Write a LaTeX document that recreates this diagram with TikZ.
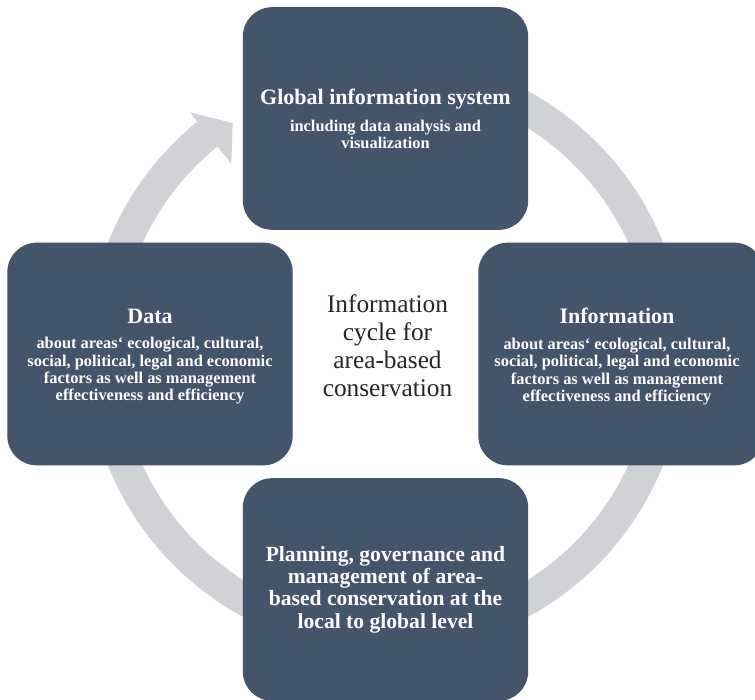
\documentclass[tikz,border=0pt]{standalone}
\usepackage{fontspec}
\setmainfont{Liberation Serif}
\usetikzlibrary{calc}

\definecolor{slate}{HTML}{44546A}
\definecolor{ringgrey}{HTML}{D0D2D6}

\begin{document}
\begin{tikzpicture}[x=0.75pt,y=0.75pt,
		box/.style={fill=slate,rounded corners=22pt,minimum width=214pt,minimum height=167pt,
			text=white,align=center,font=\bfseries},
		boxtitle/.style={font=\bfseries\fontsize{16.5}{19}\selectfont,text=white,inner sep=1pt},
		boxtext/.style={font=\bfseries\fontsize{12.3}{13.1}\selectfont,text=white,align=center,inner sep=1pt}]
		\useasboundingbox (0,0) rectangle (755,699);
		\clip (0,0) rectangle (755,699);
		
		\coordinate (c) at (385.5,345);
		
		% grey ring, running clockwise, with its head at the top box
		\fill[ringgrey] ($(c)+(95:299)$) arc[start angle=95,end angle=-231,radius=299]
		-- ($(c)+(-231:311)$) -- ($(c)+(-236.5:277)$) -- ($(c)+(-231:245)$)
		-- ($(c)+(-231:267)$) arc[start angle=-231,end angle=95,radius=267] -- cycle;
		
		\node[box] (gis) at (385.5,580.5) {};
		\node[box] (data) at (150,345) {};
		\node[box] (info) at (621,345) {};
		\node[box] (plan) at (385.5,109.5) {};
		
		\node[boxtitle] (gist) at ($(gis)+(0,19)$) {Global information system};
		\node[boxtext,below=5.5pt] (gisb) at (gist.south) {including data analysis and\\visualization};
		
		\node[boxtitle] (datat) at ($(data)+(0,38)$) {Data};
		\node[boxtext,below=8pt] (datab) at (datat.south)
		{about areas‘ ecological, cultural,\\social, political, legal and economic\\factors as well as management\\effectiveness and efficiency};
		
		\node[boxtitle] (infot) at ($(info)+(-4,38)$) {Information};
		\node[boxtext,below=8pt] (infob) at (infot.south)
		{about areas‘ ecological, cultural,\\social, political, legal and economic\\factors as well as management\\effectiveness and efficiency};
		
		\node[font=\bfseries\fontsize{16.2}{16.8}\selectfont,text=white,align=center] (plant) at (plan)
		{Planning, governance and\\management of area-\\based conservation at the\\local to global level};
		
		\node[font=\fontsize{19}{21}\selectfont,text=black!85,align=center] (cycle) at ($(c)+(2,8)$)
		{Information\\cycle for\\area-based\\conservation};
	\end{tikzpicture}
\end{document}
